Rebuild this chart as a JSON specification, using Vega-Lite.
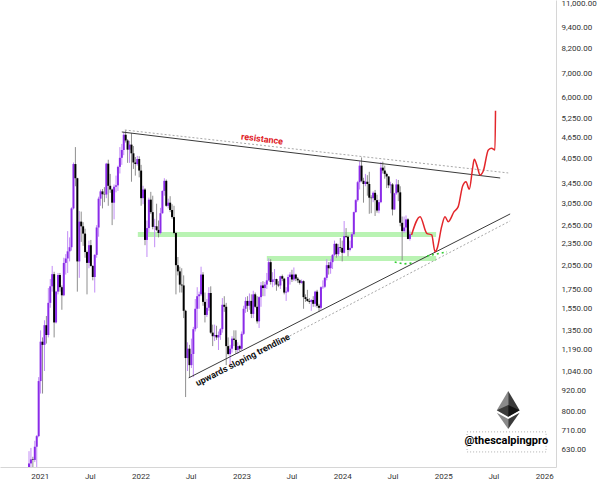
{
"$schema":"https://vega.github.io/schema/vega-lite/v6.json",
"width":556,"height":467,
"autosize":"none",
"padding":{"left":0,"top":0,"right":44,"bottom":18},
"background":"#ffffff",
"view":{"stroke":null},
"config":{"font":"Roboto"},
"datasets":{
"candles":[
{"d":"2020-11-16","o":461,"h":560,"l":440,"c":557},
{"d":"2020-11-23","o":557,"h":622,"l":480,"c":575},
{"d":"2020-11-30","o":575,"h":635,"l":560,"c":590},
{"d":"2020-12-07","o":590,"h":600,"l":530,"c":588},
{"d":"2020-12-14","o":588,"h":665,"l":580,"c":640},
{"d":"2020-12-21","o":640,"h":690,"l":560,"c":685},
{"d":"2020-12-28","o":685,"h":1000,"l":680,"c":975},
{"d":"2021-01-04","o":975,"h":1350,"l":900,"c":1255},
{"d":"2021-01-11","o":1255,"h":1290,"l":900,"c":1230},
{"d":"2021-01-18","o":1230,"h":1440,"l":1040,"c":1395},
{"d":"2021-01-25","o":1395,"h":1480,"l":1240,"c":1310},
{"d":"2021-02-01","o":1310,"h":1770,"l":1290,"c":1610},
{"d":"2021-02-08","o":1610,"h":1875,"l":1560,"c":1790},
{"d":"2021-02-15","o":1790,"h":2040,"l":1730,"c":1935},
{"d":"2021-02-22","o":1935,"h":1965,"l":1290,"c":1420},
{"d":"2021-03-01","o":1420,"h":1740,"l":1410,"c":1730},
{"d":"2021-03-08","o":1730,"h":1950,"l":1700,"c":1925},
{"d":"2021-03-15","o":1925,"h":1950,"l":1730,"c":1780},
{"d":"2021-03-22","o":1780,"h":1800,"l":1540,"c":1690},
{"d":"2021-03-29","o":1690,"h":2150,"l":1680,"c":2080},
{"d":"2021-04-05","o":2080,"h":2200,"l":1930,"c":2140},
{"d":"2021-04-12","o":2140,"h":2550,"l":1950,"c":2240},
{"d":"2021-04-19","o":2240,"h":2450,"l":2100,"c":2300},
{"d":"2021-04-26","o":2300,"h":2970,"l":2250,"c":2950},
{"d":"2021-05-03","o":2950,"h":3960,"l":2930,"c":3920},
{"d":"2021-05-10","o":3920,"h":4370,"l":3400,"c":3580},
{"d":"2021-05-17","o":3580,"h":3590,"l":1730,"c":2100},
{"d":"2021-05-24","o":2100,"h":2900,"l":1890,"c":2710},
{"d":"2021-05-31","o":2710,"h":2890,"l":2380,"c":2630},
{"d":"2021-06-07","o":2630,"h":2700,"l":2320,"c":2510},
{"d":"2021-06-14","o":2510,"h":2590,"l":2150,"c":2230},
{"d":"2021-06-21","o":2230,"h":2250,"l":1700,"c":2080},
{"d":"2021-06-28","o":2080,"h":2400,"l":2010,"c":2330},
{"d":"2021-07-05","o":2330,"h":2410,"l":2030,"c":2040},
{"d":"2021-07-12","o":2040,"h":2050,"l":1860,"c":1900},
{"d":"2021-07-19","o":1900,"h":2200,"l":1720,"c":2190},
{"d":"2021-07-26","o":2190,"h":2650,"l":2150,"c":2610},
{"d":"2021-08-02","o":2610,"h":3180,"l":2460,"c":3140},
{"d":"2021-08-09","o":3140,"h":3330,"l":3000,"c":3290},
{"d":"2021-08-16","o":3290,"h":3340,"l":2950,"c":3230},
{"d":"2021-08-23","o":3230,"h":3380,"l":3070,"c":3225},
{"d":"2021-08-30","o":3225,"h":3950,"l":3150,"c":3930},
{"d":"2021-09-06","o":3930,"h":4030,"l":3000,"c":3410},
{"d":"2021-09-13","o":3410,"h":3680,"l":3260,"c":3330},
{"d":"2021-09-20","o":3330,"h":3350,"l":2650,"c":3060},
{"d":"2021-09-27","o":3060,"h":3440,"l":2750,"c":3390},
{"d":"2021-10-04","o":3390,"h":3640,"l":3270,"c":3420},
{"d":"2021-10-11","o":3420,"h":3880,"l":3300,"c":3850},
{"d":"2021-10-18","o":3850,"h":4370,"l":3690,"c":4080},
{"d":"2021-10-25","o":4080,"h":4460,"l":3900,"c":4290},
{"d":"2021-11-01","o":4290,"h":4820,"l":4150,"c":4730},
{"d":"2021-11-08","o":4730,"h":4870,"l":4500,"c":4560},
{"d":"2021-11-15","o":4560,"h":4600,"l":3950,"c":4300},
{"d":"2021-11-22","o":4300,"h":4550,"l":3950,"c":4440},
{"d":"2021-11-29","o":4440,"h":4780,"l":3500,"c":4200},
{"d":"2021-12-06","o":4200,"h":4400,"l":3800,"c":3960},
{"d":"2021-12-13","o":3960,"h":4100,"l":3640,"c":3920},
{"d":"2021-12-20","o":3920,"h":4130,"l":3880,"c":4050},
{"d":"2021-12-27","o":4050,"h":4120,"l":3600,"c":3760},
{"d":"2022-01-03","o":3760,"h":3900,"l":3000,"c":3150},
{"d":"2022-01-10","o":3150,"h":3410,"l":3030,"c":3330},
{"d":"2022-01-17","o":3330,"h":3360,"l":2330,"c":2410},
{"d":"2022-01-24","o":2410,"h":2730,"l":2160,"c":2600},
{"d":"2022-01-31","o":2600,"h":3160,"l":2530,"c":3120},
{"d":"2022-02-07","o":3120,"h":3280,"l":2850,"c":2880},
{"d":"2022-02-14","o":2880,"h":3200,"l":2580,"c":2620},
{"d":"2022-02-21","o":2620,"h":2760,"l":2300,"c":2630},
{"d":"2022-02-28","o":2630,"h":3040,"l":2550,"c":2570},
{"d":"2022-03-07","o":2570,"h":2730,"l":2450,"c":2520},
{"d":"2022-03-14","o":2520,"h":2960,"l":2500,"c":2860},
{"d":"2022-03-21","o":2860,"h":3310,"l":2850,"c":3300},
{"d":"2022-03-28","o":3300,"h":3580,"l":3200,"c":3520},
{"d":"2022-04-04","o":3520,"h":3550,"l":2980,"c":3000},
{"d":"2022-04-11","o":3000,"h":3140,"l":2950,"c":3060},
{"d":"2022-04-18","o":3060,"h":3190,"l":2880,"c":2920},
{"d":"2022-04-25","o":2920,"h":3030,"l":2760,"c":2790},
{"d":"2022-05-02","o":2790,"h":3000,"l":2500,"c":2520},
{"d":"2022-05-09","o":2520,"h":2540,"l":1700,"c":2050},
{"d":"2022-05-16","o":2050,"h":2160,"l":1920,"c":1970},
{"d":"2022-05-23","o":1970,"h":2030,"l":1720,"c":1810},
{"d":"2022-05-30","o":1810,"h":2010,"l":1720,"c":1800},
{"d":"2022-06-06","o":1800,"h":1920,"l":1460,"c":1530},
{"d":"2022-06-13","o":1530,"h":1540,"l":880,"c":1130},
{"d":"2022-06-20","o":1130,"h":1250,"l":1040,"c":1200},
{"d":"2022-06-27","o":1200,"h":1230,"l":1000,"c":1080},
{"d":"2022-07-04","o":1080,"h":1280,"l":1060,"c":1160},
{"d":"2022-07-11","o":1160,"h":1380,"l":1000,"c":1360},
{"d":"2022-07-18","o":1360,"h":1650,"l":1340,"c":1550},
{"d":"2022-07-25","o":1550,"h":1780,"l":1370,"c":1680},
{"d":"2022-08-01","o":1680,"h":1730,"l":1550,"c":1700},
{"d":"2022-08-08","o":1700,"h":2030,"l":1680,"c":1930},
{"d":"2022-08-15","o":1930,"h":1960,"l":1580,"c":1620},
{"d":"2022-08-22","o":1620,"h":1720,"l":1420,"c":1490},
{"d":"2022-08-29","o":1490,"h":1650,"l":1470,"c":1560},
{"d":"2022-09-05","o":1560,"h":1780,"l":1530,"c":1715},
{"d":"2022-09-12","o":1715,"h":1790,"l":1320,"c":1330},
{"d":"2022-09-19","o":1330,"h":1400,"l":1220,"c":1300},
{"d":"2022-09-26","o":1300,"h":1400,"l":1260,"c":1310},
{"d":"2022-10-03","o":1310,"h":1390,"l":1270,"c":1290},
{"d":"2022-10-10","o":1290,"h":1340,"l":1190,"c":1310},
{"d":"2022-10-17","o":1310,"h":1370,"l":1270,"c":1360},
{"d":"2022-10-24","o":1360,"h":1660,"l":1330,"c":1590},
{"d":"2022-10-31","o":1590,"h":1680,"l":1520,"c":1570},
{"d":"2022-11-07","o":1570,"h":1610,"l":1080,"c":1220},
{"d":"2022-11-14","o":1220,"h":1290,"l":1150,"c":1160},
{"d":"2022-11-21","o":1160,"h":1230,"l":1080,"c":1200},
{"d":"2022-11-28","o":1200,"h":1300,"l":1170,"c":1280},
{"d":"2022-12-05","o":1280,"h":1350,"l":1220,"c":1270},
{"d":"2022-12-12","o":1270,"h":1350,"l":1160,"c":1190},
{"d":"2022-12-19","o":1190,"h":1250,"l":1160,"c":1220},
{"d":"2022-12-26","o":1220,"h":1230,"l":1180,"c":1200},
{"d":"2023-01-02","o":1200,"h":1340,"l":1190,"c":1320},
{"d":"2023-01-09","o":1320,"h":1580,"l":1310,"c":1550},
{"d":"2023-01-16","o":1550,"h":1670,"l":1510,"c":1630},
{"d":"2023-01-23","o":1630,"h":1680,"l":1520,"c":1580},
{"d":"2023-01-30","o":1580,"h":1710,"l":1540,"c":1630},
{"d":"2023-02-06","o":1630,"h":1700,"l":1460,"c":1500},
{"d":"2023-02-13","o":1500,"h":1740,"l":1460,"c":1700},
{"d":"2023-02-20","o":1700,"h":1720,"l":1560,"c":1570},
{"d":"2023-02-27","o":1570,"h":1680,"l":1410,"c":1430},
{"d":"2023-03-06","o":1430,"h":1680,"l":1370,"c":1670},
{"d":"2023-03-13","o":1670,"h":1840,"l":1570,"c":1800},
{"d":"2023-03-20","o":1800,"h":1850,"l":1680,"c":1770},
{"d":"2023-03-27","o":1770,"h":1840,"l":1680,"c":1810},
{"d":"2023-04-03","o":1810,"h":1950,"l":1760,"c":1860},
{"d":"2023-04-10","o":1860,"h":2140,"l":1850,"c":2090},
{"d":"2023-04-17","o":2090,"h":2130,"l":1810,"c":1840},
{"d":"2023-04-24","o":1840,"h":1960,"l":1780,"c":1870},
{"d":"2023-05-01","o":1870,"h":2000,"l":1800,"c":1875},
{"d":"2023-05-08","o":1875,"h":1880,"l":1740,"c":1810},
{"d":"2023-05-15","o":1810,"h":1850,"l":1780,"c":1800},
{"d":"2023-05-22","o":1800,"h":1915,"l":1760,"c":1910},
{"d":"2023-05-29","o":1910,"h":1930,"l":1850,"c":1880},
{"d":"2023-06-05","o":1880,"h":1890,"l":1700,"c":1720},
{"d":"2023-06-12","o":1720,"h":1780,"l":1630,"c":1730},
{"d":"2023-06-19","o":1730,"h":1930,"l":1720,"c":1900},
{"d":"2023-06-26","o":1900,"h":1960,"l":1810,"c":1930},
{"d":"2023-07-03","o":1930,"h":1990,"l":1840,"c":1870},
{"d":"2023-07-10","o":1870,"h":2020,"l":1850,"c":1930},
{"d":"2023-07-17","o":1930,"h":1940,"l":1850,"c":1880},
{"d":"2023-07-24","o":1880,"h":1900,"l":1830,"c":1860},
{"d":"2023-07-31","o":1860,"h":1870,"l":1810,"c":1830},
{"d":"2023-08-07","o":1830,"h":1870,"l":1820,"c":1850},
{"d":"2023-08-14","o":1850,"h":1860,"l":1550,"c":1670},
{"d":"2023-08-21","o":1670,"h":1700,"l":1620,"c":1650},
{"d":"2023-08-28","o":1650,"h":1750,"l":1620,"c":1630},
{"d":"2023-09-04","o":1630,"h":1660,"l":1600,"c":1620},
{"d":"2023-09-11","o":1620,"h":1650,"l":1530,"c":1640},
{"d":"2023-09-18","o":1640,"h":1680,"l":1570,"c":1600},
{"d":"2023-09-25","o":1600,"h":1740,"l":1570,"c":1730},
{"d":"2023-10-02","o":1730,"h":1750,"l":1560,"c":1580},
{"d":"2023-10-09","o":1580,"h":1600,"l":1520,"c":1560},
{"d":"2023-10-16","o":1560,"h":1790,"l":1540,"c":1780},
{"d":"2023-10-23","o":1780,"h":1860,"l":1760,"c":1785},
{"d":"2023-10-30","o":1785,"h":1900,"l":1770,"c":1890},
{"d":"2023-11-06","o":1890,"h":2130,"l":1860,"c":2050},
{"d":"2023-11-13","o":2050,"h":2090,"l":1930,"c":2010},
{"d":"2023-11-20","o":2010,"h":2130,"l":1940,"c":2090},
{"d":"2023-11-27","o":2090,"h":2200,"l":2000,"c":2190},
{"d":"2023-12-04","o":2190,"h":2400,"l":2170,"c":2350},
{"d":"2023-12-11","o":2350,"h":2360,"l":2150,"c":2200},
{"d":"2023-12-18","o":2200,"h":2350,"l":2170,"c":2300},
{"d":"2023-12-25","o":2300,"h":2440,"l":2230,"c":2290},
{"d":"2024-01-01","o":2290,"h":2400,"l":2100,"c":2220},
{"d":"2024-01-08","o":2220,"h":2720,"l":2210,"c":2470},
{"d":"2024-01-15","o":2470,"h":2600,"l":2440,"c":2460},
{"d":"2024-01-22","o":2460,"h":2480,"l":2170,"c":2260},
{"d":"2024-01-29","o":2260,"h":2400,"l":2240,"c":2290},
{"d":"2024-02-05","o":2290,"h":2530,"l":2280,"c":2500},
{"d":"2024-02-12","o":2500,"h":2890,"l":2480,"c":2880},
{"d":"2024-02-19","o":2880,"h":3130,"l":2870,"c":3110},
{"d":"2024-02-26","o":3110,"h":3520,"l":3080,"c":3490},
{"d":"2024-03-04","o":3490,"h":3990,"l":3330,"c":3880},
{"d":"2024-03-11","o":3880,"h":4090,"l":3490,"c":3520},
{"d":"2024-03-18","o":3520,"h":3590,"l":3060,"c":3450},
{"d":"2024-03-25","o":3450,"h":3680,"l":3400,"c":3500},
{"d":"2024-04-01","o":3500,"h":3650,"l":3200,"c":3450},
{"d":"2024-04-08","o":3450,"h":3730,"l":2850,"c":3160},
{"d":"2024-04-15","o":3160,"h":3210,"l":2860,"c":3150},
{"d":"2024-04-22","o":3150,"h":3290,"l":3070,"c":3260},
{"d":"2024-04-29","o":3260,"h":3320,"l":2810,"c":3110},
{"d":"2024-05-06","o":3110,"h":3220,"l":2870,"c":2910},
{"d":"2024-05-13","o":2910,"h":3120,"l":2860,"c":3070},
{"d":"2024-05-20","o":3070,"h":3970,"l":3050,"c":3830},
{"d":"2024-05-27","o":3830,"h":3980,"l":3690,"c":3760},
{"d":"2024-06-03","o":3760,"h":3880,"l":3570,"c":3680},
{"d":"2024-06-10","o":3680,"h":3710,"l":3360,"c":3620},
{"d":"2024-06-17","o":3620,"h":3630,"l":3360,"c":3420},
{"d":"2024-06-24","o":3420,"h":3500,"l":3250,"c":3440},
{"d":"2024-07-01","o":3440,"h":3470,"l":2820,"c":2930},
{"d":"2024-07-08","o":2930,"h":3260,"l":2920,"c":3250},
{"d":"2024-07-15","o":3250,"h":3560,"l":3220,"c":3440},
{"d":"2024-07-22","o":3440,"h":3540,"l":3090,"c":3270},
{"d":"2024-07-29","o":3270,"h":3400,"l":2630,"c":2690},
{"d":"2024-08-05","o":2690,"h":2800,"l":2110,"c":2550},
{"d":"2024-08-12","o":2550,"h":2800,"l":2520,"c":2610},
{"d":"2024-08-19","o":2610,"h":2820,"l":2530,"c":2750},
{"d":"2024-08-26","o":2750,"h":2770,"l":2420,"c":2425},
{"d":"2024-09-02","o":2425,"h":2560,"l":2400,"c":2500}
],
"bands":[
{"d":"2021-12-22","d2":"2024-12-06","v1":2456,"v2":2537},
{"d":"2023-04-03","d2":"2024-12-06","v1":2106,"v2":2175}
],
"solid":[
{"g":"res","d":"2021-10-25","v":4815},{"g":"res","d":"2025-07-26","v":3585},
{"g":"sup","d":"2022-06-24","v":995},{"g":"sup","d":"2025-08-31","v":2847}
],
"dotted":[
{"g":"res","d":"2021-11-05","v":4877},{"g":"res","d":"2025-08-24","v":3703},
{"g":"sup","d":"2023-06-25","v":1302},{"g":"sup","d":"2025-08-31","v":2722}
],
"greendots":[
{"g":"a","d":"2024-07-09","v":2092},{"g":"a","d":"2024-08-10","v":2066},{"g":"a","d":"2024-09-12","v":2079},
{"g":"b","d":"2024-11-03","v":2175},{"g":"b","d":"2025-01-14","v":2232}
],
"projection":[
{"d":"2024-09-08","v":2488},
{"d":"2024-10-09","v":2797},
{"d":"2024-11-02","v":2515},
{"d":"2024-11-20","v":2488},
{"d":"2024-12-02","v":2236},
{"d":"2024-12-10","v":2285},
{"d":"2024-12-26","v":2624},
{"d":"2025-01-07","v":2797},
{"d":"2025-01-19","v":2709},
{"d":"2025-02-09","v":2889},
{"d":"2025-02-24","v":2983},
{"d":"2025-03-12","v":3406},
{"d":"2025-03-24","v":3502},
{"d":"2025-04-05","v":3335},
{"d":"2025-04-17","v":3815},
{"d":"2025-04-23","v":4042},
{"d":"2025-05-04","v":3855},
{"d":"2025-05-14","v":3655},
{"d":"2025-05-26","v":3757},
{"d":"2025-06-13","v":4291},
{"d":"2025-06-25","v":4337},
{"d":"2025-07-07","v":4291},
{"d":"2025-07-09","v":5519}
],
"logo":[{"d":"2025-08-24","v":810}],
"wm":[{"d":"2025-08-17","v":664}],
"wmbox":[{"d":"2025-03-28","d2":"2026-01-08","v1":619,"v2":704}],
"lbl1":[{"d":"2023-03-17","v":4604}],
"lbl2":[{"d":"2023-01-06","v":1117}]
},
"encoding":{
"x":{"field":"d","type":"temporal","title":null,
"scale":{"type":"utc","domain":[{"year":2020,"month":8,"date":10,"utc":true},{"year":2026,"month":2,"date":13,"utc":true}],"nice":false},
"axis":{"values":[{"year":2021,"month":1,"date":1,"utc":true},{"year":2021,"month":7,"date":1,"utc":true},{"year":2022,"month":1,"date":1,"utc":true},{"year":2022,"month":7,"date":1,"utc":true},{"year":2023,"month":1,"date":1,"utc":true},{"year":2023,"month":7,"date":1,"utc":true},{"year":2024,"month":1,"date":1,"utc":true},{"year":2024,"month":7,"date":1,"utc":true},{"year":2025,"month":1,"date":1,"utc":true},{"year":2025,"month":7,"date":1,"utc":true},{"year":2026,"month":1,"date":1,"utc":true}],
"labelExpr":"utcmonth(datum.value) == 0 ? utcFormat(datum.value, '%Y') : 'Jul'",
"title":null,"grid":false,"ticks":false,"labelPadding":5,"labelFontSize":8,"labelColor":"#333333","domainColor":"#d6d6d6","labelOverlap":false,"labelFlush":false}}
},
"layer":[
{"data":{"name":"bands"},"mark":{"type":"rect","color":"#b9f3b3","clip":true},
"encoding":{"x2":{"field":"d2"},"y":{"field":"v1","type":"quantitative","title":null,"scale":{"type":"log","domain":[562,11223],"nice":false},
"axis":{"orient":"right","values":[630,710,800,920,1040,1190,1350,1550,1750,2050,2350,2650,3050,3450,4050,4650,5250,6000,7000,8200,9400,11000],"format":",.2f","title":null,"grid":false,"ticks":false,"labelPadding":5,"labelFontSize":8,"labelColor":"#333333","domainColor":"#d6d6d6","labelOverlap":false,"labelFlush":false,"labelBound":false}},"y2":{"field":"v2"}}},
{"data":{"name":"candles"},"mark":{"type":"rule","strokeWidth":1,"clip":true},
"encoding":{"y":{"field":"l","type":"quantitative","title":null,"scale":{"type":"log","domain":[562,11223],"nice":false}},
"y2":{"field":"h"},
"color":{"condition":{"test":"datum.c >= datum.o","value":"#c28cf6"},"value":"#8e8e8e"}}},
{"data":{"name":"candles"},"mark":{"type":"rule","strokeWidth":2,"clip":true},
"encoding":{"y":{"field":"o","type":"quantitative","title":null,"scale":{"type":"log","domain":[562,11223],"nice":false}},
"y2":{"field":"c"},
"color":{"condition":{"test":"datum.c >= datum.o","value":"#8a2be8"},"value":"#000000"}}},
{"data":{"name":"dotted"},"mark":{"type":"line","color":"#a8a8a8","strokeWidth":1,"strokeDash":[2,2],"clip":true},
"encoding":{"y":{"field":"v","type":"quantitative","title":null,"scale":{"type":"log","domain":[562,11223],"nice":false}},"detail":{"field":"g"}}},
{"data":{"name":"solid"},"mark":{"type":"line","color":"#3a3a3a","strokeWidth":1,"clip":true},
"encoding":{"y":{"field":"v","type":"quantitative","title":null,"scale":{"type":"log","domain":[562,11223],"nice":false}},"detail":{"field":"g"}}},
{"data":{"name":"greendots"},"mark":{"type":"line","color":"#2fcc2f","strokeWidth":1.6,"strokeDash":[2,3],"clip":true},
"encoding":{"y":{"field":"v","type":"quantitative","title":null,"scale":{"type":"log","domain":[562,11223],"nice":false}},"detail":{"field":"g"}}},
{"data":{"name":"projection"},"mark":{"type":"line","color":"#e3262b","strokeWidth":1.5,"interpolate":"monotone","clip":true},
"encoding":{"y":{"field":"v","type":"quantitative","title":null,"scale":{"type":"log","domain":[562,11223],"nice":false}}}},
{"data":{"name":"lbl1"},"mark":{"type":"text","text":"resistance","color":"#e0201f","font":"Roboto","fontWeight":"bold","fontSize":9,"angle":7,"align":"center","baseline":"middle"},
"encoding":{"y":{"field":"v","type":"quantitative","title":null,"scale":{"type":"log","domain":[562,11223],"nice":false}}}},
{"data":{"name":"lbl2"},"mark":{"type":"text","text":"upwards sloping trendline","color":"#111111","font":"Roboto","fontWeight":"bold","fontSize":9,"angle":-27,"align":"center","baseline":"middle"},
"encoding":{"y":{"field":"v","type":"quantitative","title":null,"scale":{"type":"log","domain":[562,11223],"nice":false}}}},
{"data":{"name":"wmbox"},"mark":{"type":"rect","fill":null,"filled":false,"stroke":"#b0b0b0","strokeWidth":1,"strokeDash":[1,2]},
"encoding":{"x2":{"field":"d2"},"y":{"field":"v1","type":"quantitative","title":null,"scale":{"type":"log","domain":[562,11223],"nice":false}},"y2":{"field":"v2"}}},
{"data":{"name":"wm"},"mark":{"type":"text","text":"@thescalpingpro","color":"#000000","font":"Roboto","fontWeight":"bold","fontSize":11,"align":"center","baseline":"middle"},
"encoding":{"y":{"field":"v","type":"quantitative","title":null,"scale":{"type":"log","domain":[562,11223],"nice":false}}}},
{"data":{"name":"logo"},"mark":{"type":"point","shape":"M0,-1L-0.6,0.02L0,0.36Z","filled":true,"size":1444,"color":"#8a8a8a","opacity":1},
"encoding":{"y":{"field":"v","type":"quantitative","title":null,"scale":{"type":"log","domain":[562,11223],"nice":false}}}},
{"data":{"name":"logo"},"mark":{"type":"point","shape":"M0,-1L0.6,0.02L0,0.36Z","filled":true,"size":1444,"color":"#3a3a3a","opacity":1},
"encoding":{"y":{"field":"v","type":"quantitative","title":null,"scale":{"type":"log","domain":[562,11223],"nice":false}}}},
{"data":{"name":"logo"},"mark":{"type":"point","shape":"M-0.6,0.02L0,-0.26L0,0.36Z","filled":true,"size":1444,"color":"#3c3c3b","opacity":1},
"encoding":{"y":{"field":"v","type":"quantitative","title":null,"scale":{"type":"log","domain":[562,11223],"nice":false}}}},
{"data":{"name":"logo"},"mark":{"type":"point","shape":"M0.6,0.02L0,-0.26L0,0.36Z","filled":true,"size":1444,"color":"#141414","opacity":1},
"encoding":{"y":{"field":"v","type":"quantitative","title":null,"scale":{"type":"log","domain":[562,11223],"nice":false}}}},
{"data":{"name":"logo"},"mark":{"type":"point","shape":"M-0.6,0.14L0,0.48L0,1Z","filled":true,"size":1444,"color":"#8a8a8a","opacity":1},
"encoding":{"y":{"field":"v","type":"quantitative","title":null,"scale":{"type":"log","domain":[562,11223],"nice":false}}}},
{"data":{"name":"logo"},"mark":{"type":"point","shape":"M0.6,0.14L0,0.48L0,1Z","filled":true,"size":1444,"color":"#3a3a3a","opacity":1},
"encoding":{"y":{"field":"v","type":"quantitative","title":null,"scale":{"type":"log","domain":[562,11223],"nice":false}}}}
]
}
